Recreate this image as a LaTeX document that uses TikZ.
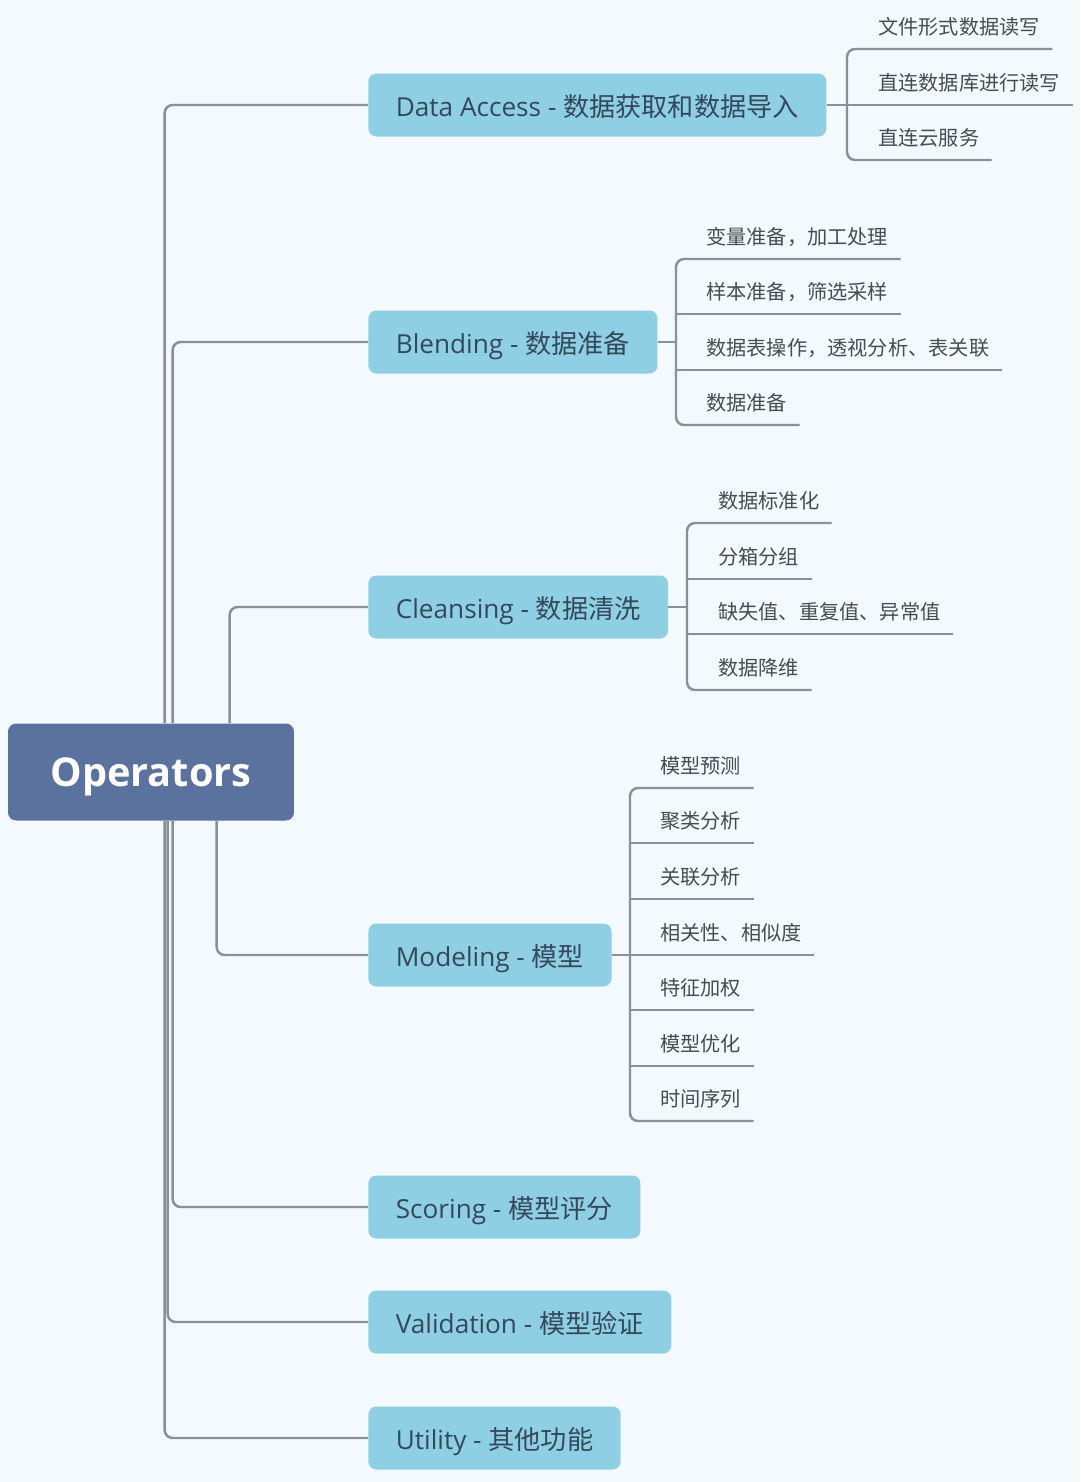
\documentclass[tikz,border=0pt]{standalone}
\usepackage{fontspec}
\setmainfont{Open Sans}
\newfontfamily\cjk{Noto Sans CJK SC}
\usetikzlibrary{positioning}
\definecolor{bgblue}{RGB}{244, 249, 253}
\definecolor{rootblue}{RGB}{91, 114, 159}
\definecolor{branchblue}{RGB}{143, 207, 228}
\definecolor{branchtext}{RGB}{52, 72, 92}
\definecolor{leaftext}{RGB}{72, 76, 82}
\definecolor{linkgray}{RGB}{137, 144, 156}
\tikzset{
  rootnode/.style={fill=rootblue, rounded corners=0.16cm, text=white, font=\fontsize{22.6}{27}\selectfont\bfseries, text height=16.2pt, text depth=0pt, minimum width=5.72cm, minimum height=1.94cm},
  branch/.style={fill=branchblue, rounded corners=0.16cm, text=branchtext, font=\fontsize{14.9}{18}\selectfont, text height=12.9pt, text depth=0pt, inner xsep=0.55cm, inner ysep=0pt, minimum height=1.26cm, anchor=west},
  leaf/.style={text=leaftext, font=\cjk\fontsize{11.5}{14}\selectfont, inner xsep=0.24cm, inner ysep=0pt, minimum height=0.88cm, anchor=south west},
  link/.style={draw=linkgray, line width=1.4pt, rounded corners=0.16cm},
}

\begin{document}
\begin{tikzpicture}[x=0.02cm, y=-0.02cm]
  \fill[bgblue] (0,0) rectangle (1080,1482);
  \useasboundingbox (0,0) rectangle (1080,1482);

  \node[rootnode] (root) at (151,772) {Operators};

  % 一级分支
  \node[branch] (acc) at (368,105) {Data Access - {\cjk 数据获取和数据导入}};
  \node[branch] (blend) at (368,342) {Blending - {\cjk 数据准备}};
  \node[branch] (clean) at (368,607) {Cleansing - {\cjk 数据清洗}};
  \node[branch] (model) at (368,955) {Modeling - {\cjk 模型}};
  \node[branch] (score) at (368,1207) {Scoring - {\cjk 模型评分}};
  \node[branch] (valid) at (368,1322) {Validation - {\cjk 模型验证}};
  \node[branch] (util) at (368,1438) {Utility - {\cjk 其他功能}};

  % 根节点到分支的连线
  \draw[link] ([xshift=3.14cm]root.north west) |- (acc.west);
  \draw[link] ([xshift=3.30cm]root.north west) |- (blend.west);
  \draw[link] ([xshift=4.44cm]root.north west) |- (clean.west);
  \draw[link] ([xshift=4.18cm]root.south west) |- (model.west);
  \draw[link] ([xshift=3.30cm]root.south west) |- (score.west);
  \draw[link] ([xshift=3.20cm]root.south west) |- (valid.west);
  \draw[link] ([xshift=3.14cm]root.south west) |- (util.west);

  % Data Access 子项
  \coordinate (accbar) at (847,105);
  \node[leaf] (acc1) at (866,49) {文件形式数据读写};
  \node[leaf] (acc2) at (866,105) {直连数据库进行读写};
  \node[leaf] (acc3) at (866,160) {直连云服务};
  \draw[link] (acc.east) -- (accbar);
  \draw[link] (acc1.south east) -- (acc1.south east -| accbar) -- (acc3.south east -| accbar) -- (acc3.south east);
  \draw[link] (acc2.south east) -- (acc2.south east -| accbar);

  % Blending 子项
  \coordinate (blendbar) at (676,342);
  \node[leaf] (blend1) at (694,259) {变量准备，加工处理};
  \node[leaf] (blend2) at (694,314) {样本准备，筛选采样};
  \node[leaf] (blend3) at (694,370) {数据表操作，透视分析、表关联};
  \node[leaf] (blend4) at (694,425) {数据准备};
  \draw[link] (blend.east) -- (blendbar);
  \draw[link] (blend1.south east) -- (blend1.south east -| blendbar) -- (blend4.south east -| blendbar) -- (blend4.south east);
  \draw[link] (blend2.south east) -- (blend2.south east -| blendbar);
  \draw[link] (blend3.south east) -- (blend3.south east -| blendbar);

  % Cleansing 子项
  \coordinate (cleanbar) at (687,607);
  \node[leaf] (clean1) at (706,523) {数据标准化};
  \node[leaf] (clean2) at (706,579) {分箱分组};
  \node[leaf] (clean3) at (706,634) {缺失值、重复值、异常值};
  \node[leaf] (clean4) at (706,690) {数据降维};
  \draw[link] (clean.east) -- (cleanbar);
  \draw[link] (clean1.south east) -- (clean1.south east -| cleanbar) -- (clean4.south east -| cleanbar) -- (clean4.south east);
  \draw[link] (clean2.south east) -- (clean2.south east -| cleanbar);
  \draw[link] (clean3.south east) -- (clean3.south east -| cleanbar);

  % Modeling 子项
  \coordinate (modelbar) at (630,955);
  \node[leaf] (model1) at (648,788) {模型预测};
  \node[leaf] (model2) at (648,843) {聚类分析};
  \node[leaf] (model3) at (648,899) {关联分析};
  \node[leaf] (model4) at (648,955) {相关性、相似度};
  \node[leaf] (model5) at (648,1010) {特征加权};
  \node[leaf] (model6) at (648,1066) {模型优化};
  \node[leaf] (model7) at (648,1121) {时间序列};
  \draw[link] (model.east) -- (modelbar);
  \draw[link] (model1.south east) -- (model1.south east -| modelbar) -- (model7.south east -| modelbar) -- (model7.south east);
  \foreach \i in {2,...,6}
    \draw[link] (model\i.south east) -- (model\i.south east -| modelbar);
\end{tikzpicture}
\end{document}
